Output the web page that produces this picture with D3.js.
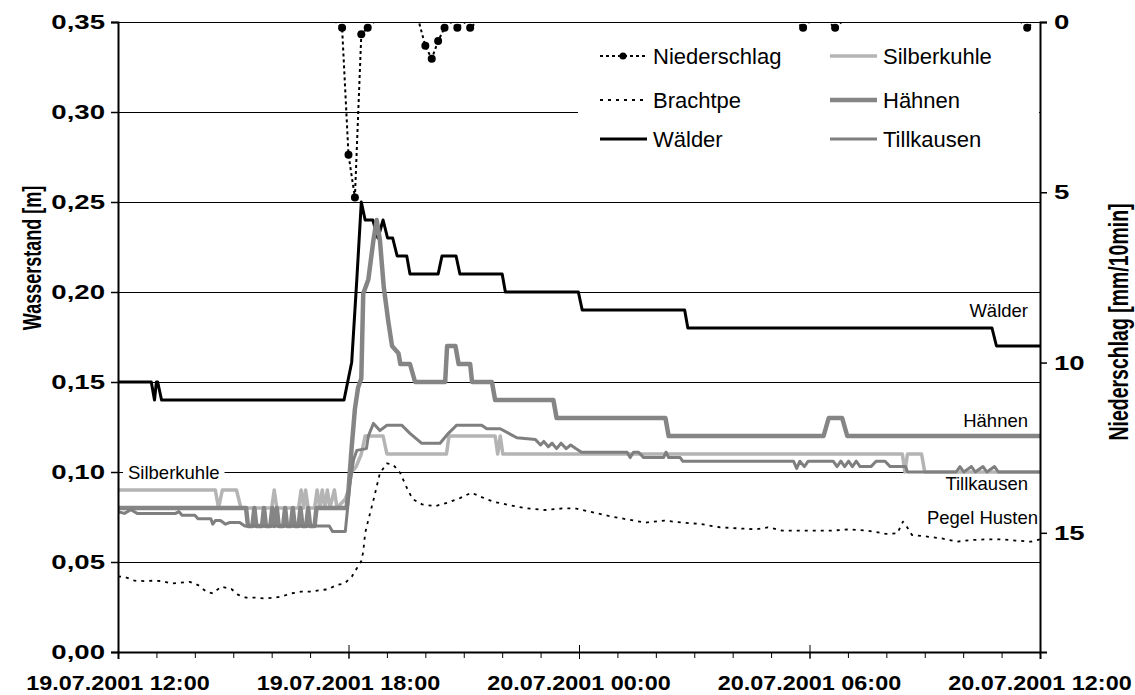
<!DOCTYPE html>
<html><head><meta charset="utf-8">
<script src="https://cdn.jsdelivr.net/npm/d3@7"></script>
<style>body{margin:0;background:#fff}</style>
</head><body>
<svg id="chart" width="1135" height="695"></svg>
<script>
// ---------- data ----------
const xTickLabels = ["19.07.2001 12:00","19.07.2001 18:00","20.07.2001 00:00","20.07.2001 06:00","20.07.2001 12:00"];
const xTickTimes  = ["19 12:00","19 18:00","20 00:00","20 06:00","20 12:00"];
const yTickValues = [0,0.05,0.10,0.15,0.20,0.25,0.30,0.35];
const yTickLabels = ["0,00","0,05","0,10","0,15","0,20","0,25","0,30","0,35"];
const y2TickValues = [0,5,10,15];
const y2TickLabels = ["0","5","10","15"];

const niederschlag = [["19 12:00",0],["19 17:40",0],["19 17:50",0.17],["19 18:00",3.9],["19 18:10",5.15],["19 18:20",0.36],["19 18:30",0.17],["19 18:40",0],["19 19:50",0],["19 20:00",0.7],["19 20:10",1.08],["19 20:20",0.56],["19 20:30",0.17],["19 20:40",0],["19 20:50",0.17],["19 21:00",0],["19 21:10",0.17],["19 21:20",0],["20 05:40",0],["20 05:50",0.17],["20 06:00",0],["20 06:30",0],["20 06:40",0.17],["20 06:50",0],["20 11:30",0],["20 11:40",0.17],["20 11:50",0],["20 12:00",0]];

const brachtpe = [["19 12:00",0.042],["19 12:10",0.0418],["19 12:26",0.0396],["19 12:41",0.0394],["19 12:55",0.0396],["19 13:08",0.0394],["19 13:23",0.0381],["19 13:37",0.0385],["19 13:52",0.039],["19 14:05",0.0372],["19 14:18",0.0335],["19 14:28",0.0326],["19 14:41",0.0363],["19 14:57",0.035],["19 15:08",0.0317],["19 15:20",0.0302],["19 15:34",0.0302],["19 15:49",0.0298],["19 16:05",0.0302],["19 16:18",0.0311],["19 16:31",0.0326],["19 16:46",0.0335],["19 17:02",0.0335],["19 17:15",0.0344],["19 17:28",0.0348],["19 17:41",0.0372],["19 17:54",0.0381],["19 18:05",0.0418],["19 18:13",0.0465],["19 18:20",0.0505],["19 18:23",0.0557],["19 18:26",0.066],["19 18:30",0.072],["19 18:39",0.0844],["19 18:49",0.0993],["19 19:00",0.1048],["19 19:10",0.104],["19 19:21",0.0993],["19 19:30",0.092],["19 19:40",0.085],["19 19:55",0.082],["19 20:15",0.081],["19 20:35",0.083],["19 20:54",0.0855],["19 21:12",0.0885],["19 21:29",0.0859],["19 21:46",0.0835],["19 22:10",0.0817],["19 22:38",0.0798],["19 23:07",0.0789],["19 23:36",0.0798],["19 23:54",0.0798],["20 00:17",0.078],["20 00:46",0.0756],["20 01:15",0.0737],["20 01:44",0.0719],["20 02:13",0.073],["20 02:41",0.0719],["20 03:10",0.0711],["20 03:40",0.0693],["20 04:08",0.0687],["20 04:37",0.0681],["20 04:55",0.0693],["20 05:18",0.0674],["20 06:04",0.0674],["20 06:33",0.0674],["20 07:02",0.0681],["20 07:31",0.0674],["20 08:00",0.0656],["20 08:17",0.0659],["20 08:26",0.0724],["20 08:32",0.0696],["20 08:40",0.065],["20 09:04",0.0641],["20 09:27",0.0631],["20 09:50",0.0613],["20 10:13",0.0622],["20 10:36",0.0626],["20 10:59",0.0626],["20 11:22",0.0619],["20 11:46",0.0613],["20 12:00",0.0626]];

const waelder = [["19 12:00",0.15],["19 12:52",0.15],["19 12:57",0.14],["19 13:00",0.15],["19 13:02",0.15],["19 13:08",0.14],["19 17:53",0.14],["19 18:05",0.161],["19 18:13",0.207],["19 18:20",0.25],["19 18:26",0.24],["19 18:38",0.24],["19 18:46",0.23],["19 18:54",0.24],["19 19:01",0.23],["19 19:09",0.23],["19 19:16",0.22],["19 19:31",0.22],["19 19:36",0.21],["19 20:20",0.21],["19 20:26",0.22],["19 20:48",0.22],["19 20:54",0.21],["19 22:00",0.21],["19 22:05",0.20],["19 23:59",0.20],["20 00:05",0.19],["20 02:45",0.19],["20 02:50",0.18],["20 10:45",0.18],["20 10:52",0.17],["20 12:00",0.17]];

const silberkuhle = [["19 12:00",0.09],["19 14:32",0.09],["19 14:37",0.08],["19 14:43",0.09],["19 15:05",0.09],["19 15:12",0.08],["19 16:00",0.08],["19 16:04",0.09],["19 16:08",0.08],["19 16:42",0.08],["19 16:46",0.09],["19 16:50",0.08],["19 16:53",0.09],["19 16:57",0.08],["19 17:07",0.08],["19 17:11",0.09],["19 17:15",0.08],["19 17:19",0.09],["19 17:23",0.08],["19 17:27",0.09],["19 17:31",0.08],["19 17:38",0.09],["19 17:42",0.08],["19 17:55",0.085],["19 18:00",0.09],["19 18:05",0.10],["19 18:12",0.103],["19 18:20",0.11],["19 18:26",0.12],["19 18:54",0.12],["19 19:00",0.11],["19 20:33",0.11],["19 20:37",0.12],["19 21:49",0.12],["19 21:53",0.11],["19 21:57",0.12],["19 22:01",0.11],["20 08:25",0.11],["20 08:29",0.10],["20 08:33",0.11],["20 08:55",0.11],["20 09:00",0.10],["20 12:00",0.10]];

const haehnen = [["19 12:00",0.08],["19 15:20",0.08],["19 15:23",0.07],["19 15:30",0.07],["19 15:33",0.08],["19 15:36",0.07],["19 15:45",0.07],["19 15:48",0.08],["19 15:51",0.07],["19 15:58",0.07],["19 16:01",0.08],["19 16:04",0.07],["19 16:08",0.08],["19 16:11",0.07],["19 16:18",0.07],["19 16:21",0.08],["19 16:24",0.07],["19 16:30",0.07],["19 16:33",0.08],["19 16:36",0.07],["19 16:42",0.07],["19 16:45",0.08],["19 16:48",0.07],["19 16:54",0.07],["19 16:57",0.08],["19 17:00",0.07],["19 17:07",0.07],["19 17:10",0.08],["19 17:57",0.08],["19 18:00",0.09],["19 18:05",0.114],["19 18:10",0.135],["19 18:15",0.147],["19 18:20",0.152],["19 18:23",0.199],["19 18:31",0.207],["19 18:39",0.229],["19 18:44",0.24],["19 18:49",0.229],["19 18:55",0.203],["19 19:02",0.184],["19 19:08",0.17],["19 19:18",0.166],["19 19:21",0.16],["19 19:36",0.16],["19 19:44",0.15],["19 20:31",0.15],["19 20:34",0.17],["19 20:47",0.17],["19 20:52",0.16],["19 21:10",0.16],["19 21:13",0.15],["19 21:44",0.15],["19 21:49",0.14],["19 23:20",0.14],["19 23:25",0.13],["20 02:15",0.13],["20 02:20",0.12],["20 06:22",0.12],["20 06:30",0.13],["20 06:51",0.13],["20 06:59",0.12],["20 12:00",0.12]];

const tillkausen = [["19 12:00",0.078],["19 12:10",0.077],["19 12:20",0.079],["19 12:30",0.077],["19 13:30",0.077],["19 13:35",0.078],["19 13:40",0.076],["19 14:00",0.076],["19 14:05",0.074],["19 14:25",0.074],["19 14:28",0.071],["19 14:32",0.073],["19 14:40",0.073],["19 14:48",0.071],["19 14:55",0.072],["19 15:10",0.072],["19 15:18",0.07],["19 17:30",0.07],["19 17:35",0.067],["19 17:55",0.067],["19 18:03",0.0956],["19 18:08",0.107],["19 18:13",0.112],["19 18:28",0.113],["19 18:31",0.12],["19 18:39",0.127],["19 18:49",0.123],["19 19:00",0.126],["19 19:23",0.126],["19 19:36",0.1215],["19 19:54",0.116],["19 20:23",0.116],["19 20:36",0.1215],["19 20:49",0.126],["19 21:28",0.126],["19 21:36",0.124],["19 21:57",0.124],["19 22:23",0.119],["19 22:52",0.118],["19 23:00",0.115],["19 23:05",0.117],["19 23:12",0.114],["19 23:18",0.116],["19 23:25",0.113],["19 23:32",0.116],["19 23:40",0.113],["19 23:47",0.115],["19 23:55",0.113],["20 00:04",0.111],["20 01:15",0.111],["20 01:20",0.108],["20 01:25",0.111],["20 01:33",0.111],["20 01:41",0.108],["20 02:12",0.108],["20 02:16",0.111],["20 02:20",0.108],["20 02:38",0.108],["20 02:42",0.106],["20 05:35",0.106],["20 05:40",0.102],["20 05:45",0.106],["20 05:52",0.103],["20 05:58",0.106],["20 06:37",0.106],["20 06:43",0.103],["20 06:49",0.106],["20 06:55",0.103],["20 07:01",0.106],["20 07:07",0.103],["20 07:13",0.106],["20 07:19",0.103],["20 07:36",0.103],["20 07:44",0.106],["20 07:58",0.106],["20 08:06",0.103],["20 08:30",0.103],["20 08:33",0.100],["20 09:49",0.100],["20 09:55",0.103],["20 10:01",0.100],["20 10:13",0.103],["20 10:19",0.100],["20 10:31",0.103],["20 10:37",0.100],["20 10:49",0.103],["20 10:55",0.100],["20 12:00",0.100]];

const legendNames = ["Niederschlag","Brachtpe","Wälder","Silberkuhle","Hähnen","Tillkausen"];
const lineLabels = ["Wälder","Hähnen","Silberkuhle","Tillkausen","Pegel Husten"];

// ---------- setup ----------
const parseT = s => { const [d, hm] = s.split(" "); const [h, mi] = hm.split(":").map(Number); return new Date(2001, 6, +d, h, mi); };
const W = 1135, L = 118, R = 1040, T = 22, B = 652;
const svg = d3.select("#chart");
const x = d3.scaleTime().domain([parseT(xTickTimes[0]), parseT(xTickTimes[4])]).range([L, R]);
const y = d3.scaleLinear().domain([0, 0.35]).range([B, T]);
const y2 = d3.scaleLinear().domain([0, 18.5]).range([T, B]);

const styles = {
  "Niederschlag": {stroke:"#000", width:2, dash:"3,3"},
  "Brachtpe": {stroke:"#000", width:1.8, dash:"3,5"},
  "Wälder": {stroke:"#000", width:3, dash:null},
  "Silberkuhle": {stroke:"#b4b4b4", width:3.5, dash:null},
  "Hähnen": {stroke:"#858585", width:4.5, dash:null},
  "Tillkausen": {stroke:"#7f7f7f", width:3, dash:null}
};
const FONT = "'Liberation Sans', Arial, sans-serif";

svg.append("defs").append("clipPath").attr("id","plot").append("rect")
  .attr("x", L).attr("y", T).attr("width", R - L).attr("height", B - T);

// gridlines
svg.append("g").selectAll("line").data(yTickValues.filter(v => v > 0)).join("line")
  .attr("x1", L).attr("x2", R).attr("y1", d => y(d)).attr("y2", d => y(d))
  .attr("stroke", "#000").attr("stroke-width", 1).attr("shape-rendering","crispEdges");

// legend background
svg.append("rect").attr("x", 578).attr("y", 33).attr("width", R - 1 - 578).attr("height", 128).attr("fill", "#fff");

// series
const line = d3.line().x(d => x(parseT(d[0]))).y(d => y(d[1]));
const line2 = d3.line().x(d => x(parseT(d[0]))).y(d => y2(d[1]));
const gS = svg.append("g").attr("clip-path","url(#plot)");
const seriesList = [["Brachtpe", brachtpe], ["Wälder", waelder], ["Silberkuhle", silberkuhle], ["Hähnen", haehnen], ["Tillkausen", tillkausen]];
seriesList.forEach(([name, data]) => {
  const st = styles[name];
  gS.append("path").datum(data).attr("d", line).attr("fill","none")
    .attr("stroke", st.stroke).attr("stroke-width", st.width)
    .attr("stroke-dasharray", st.dash).attr("stroke-linejoin","round");
});
const stN = styles["Niederschlag"];
gS.append("path").datum(niederschlag).attr("d", line2).attr("fill","none")
  .attr("stroke", stN.stroke).attr("stroke-width", stN.width).attr("stroke-dasharray", stN.dash);
gS.selectAll("circle.n").data(niederschlag.filter(d => d[1] > 0)).join("circle")
  .attr("cx", d => x(parseT(d[0]))).attr("cy", d => y2(d[1])).attr("r", 4).attr("fill","#000");

// axes (lines and ticks via d3-axis, labels drawn separately with stretched type)
const gx = svg.append("g").attr("transform", `translate(0,${B})`)
  .call(d3.axisBottom(x).tickValues(xTickTimes.map(parseT)).tickFormat("").tickSize(7));
gx.selectAll(".tick line").attr("y1", -7).attr("y2", 7);
const hours = d3.timeHour.range(parseT(xTickTimes[0]), parseT(xTickTimes[4]));
svg.append("g").attr("transform", `translate(0,${B})`)
  .call(d3.axisBottom(x).tickValues(hours).tickFormat("").tickSize(6))
  .select(".domain").remove();
const gy = svg.append("g").attr("transform", `translate(${L},0)`)
  .call(d3.axisLeft(y).tickValues(yTickValues).tickFormat("").tickSize(7));
const gy2 = svg.append("g").attr("transform", `translate(${R},0)`)
  .call(d3.axisRight(y2).tickValues(y2TickValues).tickFormat("").tickSize(7));
[gx, gy, gy2].forEach(g => g.select(".domain").attr("stroke-width", 2));
gy.selectAll(".tick line").attr("stroke-width", 1.5);
gy2.selectAll(".tick line").attr("stroke-width", 1.5);

function stretchedText(g, px, py, txt, anchor, size, sx, rot) {
  return g.append("text").attr("transform", `translate(${px},${py}) scale(${sx},1)` + (rot ? ` rotate(${rot})` : ""))
    .attr("text-anchor", anchor).attr("dominant-baseline","central")
    .attr("font-family", FONT).attr("font-weight","bold").attr("font-size", size).attr("fill","#000").text(txt);
}
const labG = svg.append("g");
const SXB = 1.17, SXL = 1.38;
xTickTimes.forEach((s, i) => {
  const cx = x(parseT(s));
  const t = stretchedText(labG, cx, 683, xTickLabels[i], "middle", 20, SXB);
  const w = t.node().getBBox().width * SXB;
  const c = Math.max(2 + w / 2, Math.min(W - 2 - w / 2, cx));
  t.attr("transform", `translate(${c},683) scale(${SXB},1)`);
});
yTickValues.forEach((v, i) => stretchedText(labG, L - 13, y(v), yTickLabels[i], "end", 20, SXL));
y2TickValues.forEach((v, i) => stretchedText(labG, R + 14, y2(v), y2TickLabels[i], "start", 20, SXL));

// axis titles
stretchedText(labG, 32, 258, "Wasserstand [m]", "middle", 18, SXL, -90);
stretchedText(labG, 1119, 322, "Niederschlag [mm/10min]", "middle", 19.5, SXL, -90);

// legend
const lg = svg.append("g").attr("font-family", FONT).attr("font-size", 22);
legendNames.forEach((name, i) => {
  const col = Math.floor(i / 3), row = i % 3;
  const x0 = col === 0 ? 600 : 830, yy = [56, 100, 139][row];
  const st = styles[name];
  lg.append("line").attr("x1", x0).attr("x2", x0 + 47).attr("y1", yy).attr("y2", yy)
    .attr("stroke", st.stroke).attr("stroke-width", st.width).attr("stroke-dasharray", st.dash);
  if (name === "Niederschlag") lg.append("circle").attr("cx", x0 + 23).attr("cy", yy).attr("r", 3.5).attr("fill","#000");
  lg.append("text").attr("x", x0 + 53).attr("y", yy).attr("dominant-baseline","central").text(name);
});

// inline line labels
const lblPos = {"Wälder":[1028,310,"end"],"Hähnen":[1028,420,"end"],"Silberkuhle":[128,472,"start"],"Tillkausen":[1028,483,"end"],"Pegel Husten":[1038,517,"end"]};
const ll = svg.append("g").attr("font-family", FONT).attr("font-size", 18.5);
lineLabels.forEach(name => {
  const [px, py, anchor] = lblPos[name];
  const t = ll.append("text").attr("x", px).attr("y", py).attr("text-anchor", anchor)
    .attr("dominant-baseline","central").text(name);
  if (name === "Silberkuhle") {
    const bb = t.node().getBBox();
    ll.insert("rect", "text").attr("x", bb.x - 5).attr("y", bb.y).attr("width", bb.width + 10).attr("height", bb.height).attr("fill","#fff");
  }
});
</script>
</body></html>
